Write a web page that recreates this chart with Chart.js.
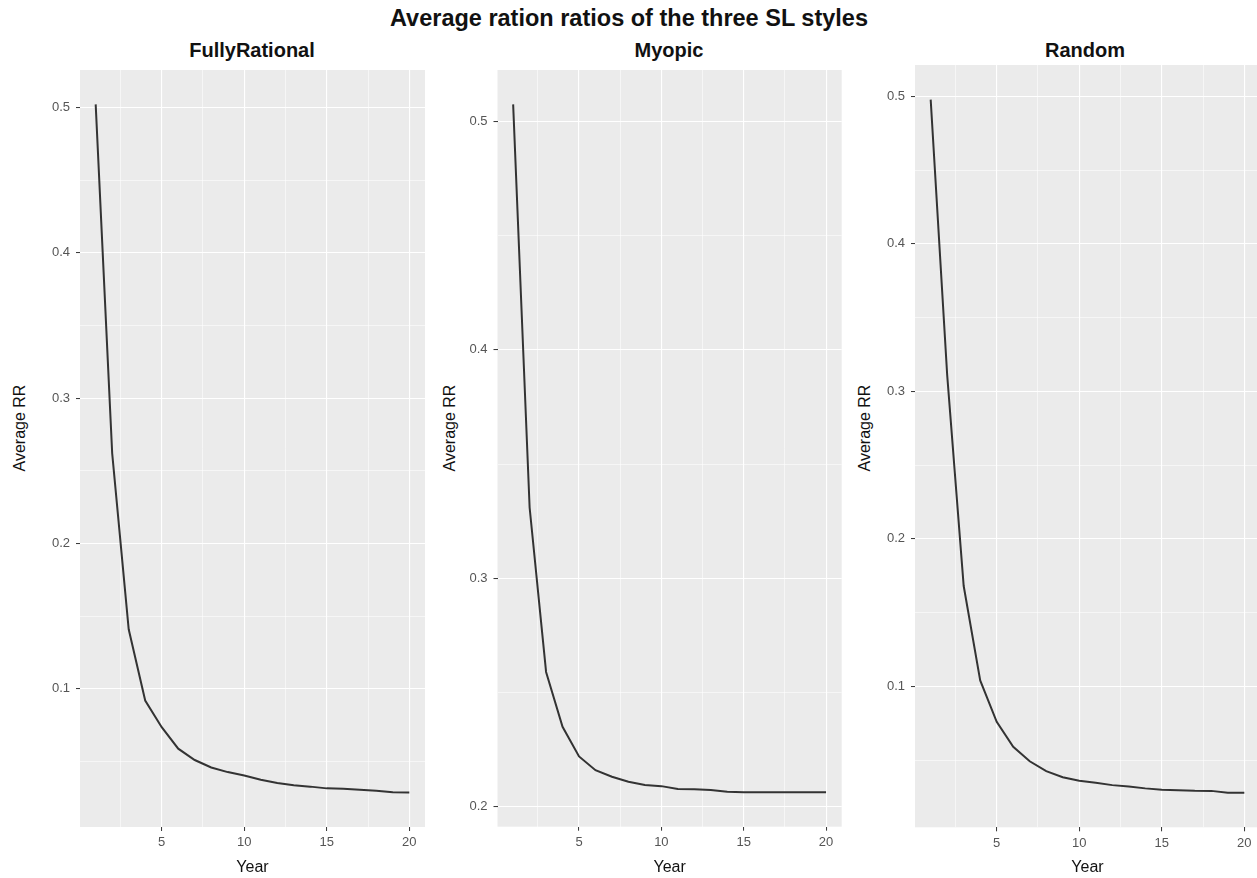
<!DOCTYPE html>
<html><head><meta charset="utf-8">
<script src="https://cdn.jsdelivr.net/npm/chart.js@4.4.1/dist/chart.umd.min.js"></script>
<style>
html,body{margin:0;padding:0;background:#fff;}
body{width:1257px;height:878px;overflow:hidden;position:relative;font-family:"Liberation Sans",Arial,sans-serif;}
canvas{position:absolute;left:0;top:0;}
.t{position:absolute;white-space:nowrap;line-height:1;color:#111;}
.c{transform:translate(-50%,-50%);}
.r{transform:translate(-50%,-50%) rotate(-90deg);}
</style></head><body>
<div class="t c" id="mainTitle" style="left:629px;top:19px;font-weight:bold;font-size:23.5px;"></div>
<div class="t c" id="pt0" style="left:252px;top:50px;font-weight:bold;font-size:20px;"></div>
<div class="t c" id="pt1" style="left:669px;top:50px;font-weight:bold;font-size:20px;"></div>
<div class="t c" id="pt2" style="left:1085px;top:50px;font-weight:bold;font-size:20px;"></div>
<div class="t r" id="yt0" style="left:20px;top:428px;font-size:16px;"></div>
<div class="t r" id="yt1" style="left:450px;top:428px;font-size:16px;"></div>
<div class="t r" id="yt2" style="left:865px;top:428px;font-size:16px;"></div>
<canvas id="c0" width="1270" height="878"></canvas>
<canvas id="c1" width="1270" height="878"></canvas>
<canvas id="c2" width="1270" height="878"></canvas>
<script>
// ---- data ----
const years = [1,2,3,4,5,6,7,8,9,10,11,12,13,14,15,16,17,18,19,20];
const fullyRational = [0.502,0.262,0.141,0.092,0.0737,0.0589,0.0511,0.046,0.0428,0.0405,0.0376,0.0353,0.0337,0.0328,0.0316,0.0314,0.0307,0.030,0.0289,0.0287];
const myopic = [0.5075,0.331,0.259,0.235,0.222,0.216,0.2131,0.2109,0.2095,0.209,0.2077,0.2076,0.2073,0.2065,0.2063,0.2063,0.2063,0.2063,0.2063,0.2063];
const random = [0.4978,0.311,0.168,0.104,0.0759,0.059,0.0492,0.0425,0.0384,0.036,0.0346,0.033,0.0321,0.0308,0.0299,0.0296,0.0292,0.0291,0.0279,0.0279];
const xTicks = [5,10,15,20];
const yTicksFullyRational = [0.1,0.2,0.3,0.4,0.5];
const yTicksMyopic = [0.2,0.3,0.4,0.5];
const yTicksRandom = [0.1,0.2,0.3,0.4,0.5];
const panelTitles = ['FullyRational','Myopic','Random'];
const mainTitle = 'Average ration ratios of the three SL styles';
const xTitle = 'Year';
const yTitle = 'Average RR';

// ---- layout (pixels) ----
const CW = 1270, CH = 878;
const layouts = [
  {L:80,    R:425,   T:70, B:827},
  {L:497.5, R:841.7, T:70, B:826.7},
  {L:915,   R:1260,  T:65, B:827.3}
];

document.getElementById('mainTitle').textContent = mainTitle;
panelTitles.forEach((t,i)=>{
  document.getElementById('pt'+i).textContent = t;
  document.getElementById('yt'+i).textContent = yTitle;
});

function expand(arr){
  const mn = Math.min(...arr), mx = Math.max(...arr), d = (mx-mn)*0.05;
  return [mn-d, mx+d];
}
function minors(major, lo, hi){
  const s = major[1]-major[0];
  const c = major.map(m=>m-s/2).concat([major[major.length-1]+s/2]);
  return c.filter(v=>v>=lo && v<=hi);
}
const near = (a,v)=>a.some(m=>Math.abs(m-v)<1e-9);

const bgPlugin = {
  id:'panelBg',
  beforeDraw(chart){
    const {ctx, chartArea:{left,top,right,bottom}} = chart;
    ctx.save(); ctx.fillStyle='#ebebeb';
    ctx.fillRect(left, top, right-left, bottom-top);
    ctx.restore();
  }
};

const FONT = '"Liberation Sans", Arial, sans-serif';

function makeChart(id, values, yMajor, lay){
  const [xMin,xMax] = expand(years);
  const [yMin,yMax] = expand(values);
  const xAll = minors(xTicks,xMin,xMax).concat(xTicks).sort((a,b)=>a-b);
  const yAll = minors(yMajor,yMin,yMax).concat(yMajor).sort((a,b)=>a-b);
  const gridW = (maj)=> c => (c.tick && near(maj,c.tick.value)) ? 1.1 : 0.55;
  const tickC = (maj)=> c => (c.tick && near(maj,c.tick.value)) ? '#333333' : 'rgba(0,0,0,0)';
  new Chart(document.getElementById(id), {
    type:'line',
    data:{datasets:[{
      data: years.map((x,i)=>({x:x, y:values[i]})),
      borderColor:'#333333', borderWidth:2, pointRadius:0, tension:0, fill:false
    }]},
    options:{
      responsive:false, animation:false, events:[],
      layout:{padding:{left:lay.L-60, right:CW-lay.R, top:lay.T, bottom:0}},
      plugins:{legend:{display:false}, tooltip:{enabled:false}},
      scales:{
        x:{
          type:'linear', min:xMin, max:xMax,
          afterBuildTicks: s=>{ s.ticks = xAll.map(v=>({value:v})); },
          afterFit: s=>{ s.height = CH - lay.B; },
          ticks:{autoSkip:false, maxRotation:0, minRotation:0, padding:4, color:'#555',
                 font:{family:FONT, size:13},
                 callback: v => near(xTicks,v) ? String(v) : ''},
          grid:{color:'#ffffff', lineWidth:gridW(xTicks), tickColor:tickC(xTicks), tickLength:4, tickWidth:1},
          border:{display:false},
          title:{display:true, text:xTitle, color:'#111', font:{family:FONT, size:16}, padding:{top:0, bottom:1}}
        },
        y:{
          type:'linear', min:yMin, max:yMax,
          afterBuildTicks: s=>{ s.ticks = yAll.map(v=>({value:v})); },
          afterFit: s=>{ s.width = 60; },
          ticks:{autoSkip:false, padding:6, color:'#555',
                 font:{family:FONT, size:13},
                 callback: v => near(yMajor,v) ? v.toFixed(1) : ''},
          grid:{color:'#ffffff', lineWidth:gridW(yMajor), tickColor:tickC(yMajor), tickLength:4, tickWidth:1},
          border:{display:false}
        }
      }
    },
    plugins:[bgPlugin]
  });
}

makeChart('c0', fullyRational, yTicksFullyRational, layouts[0]);
makeChart('c1', myopic, yTicksMyopic, layouts[1]);
makeChart('c2', random, yTicksRandom, layouts[2]);
</script>
</body></html>
